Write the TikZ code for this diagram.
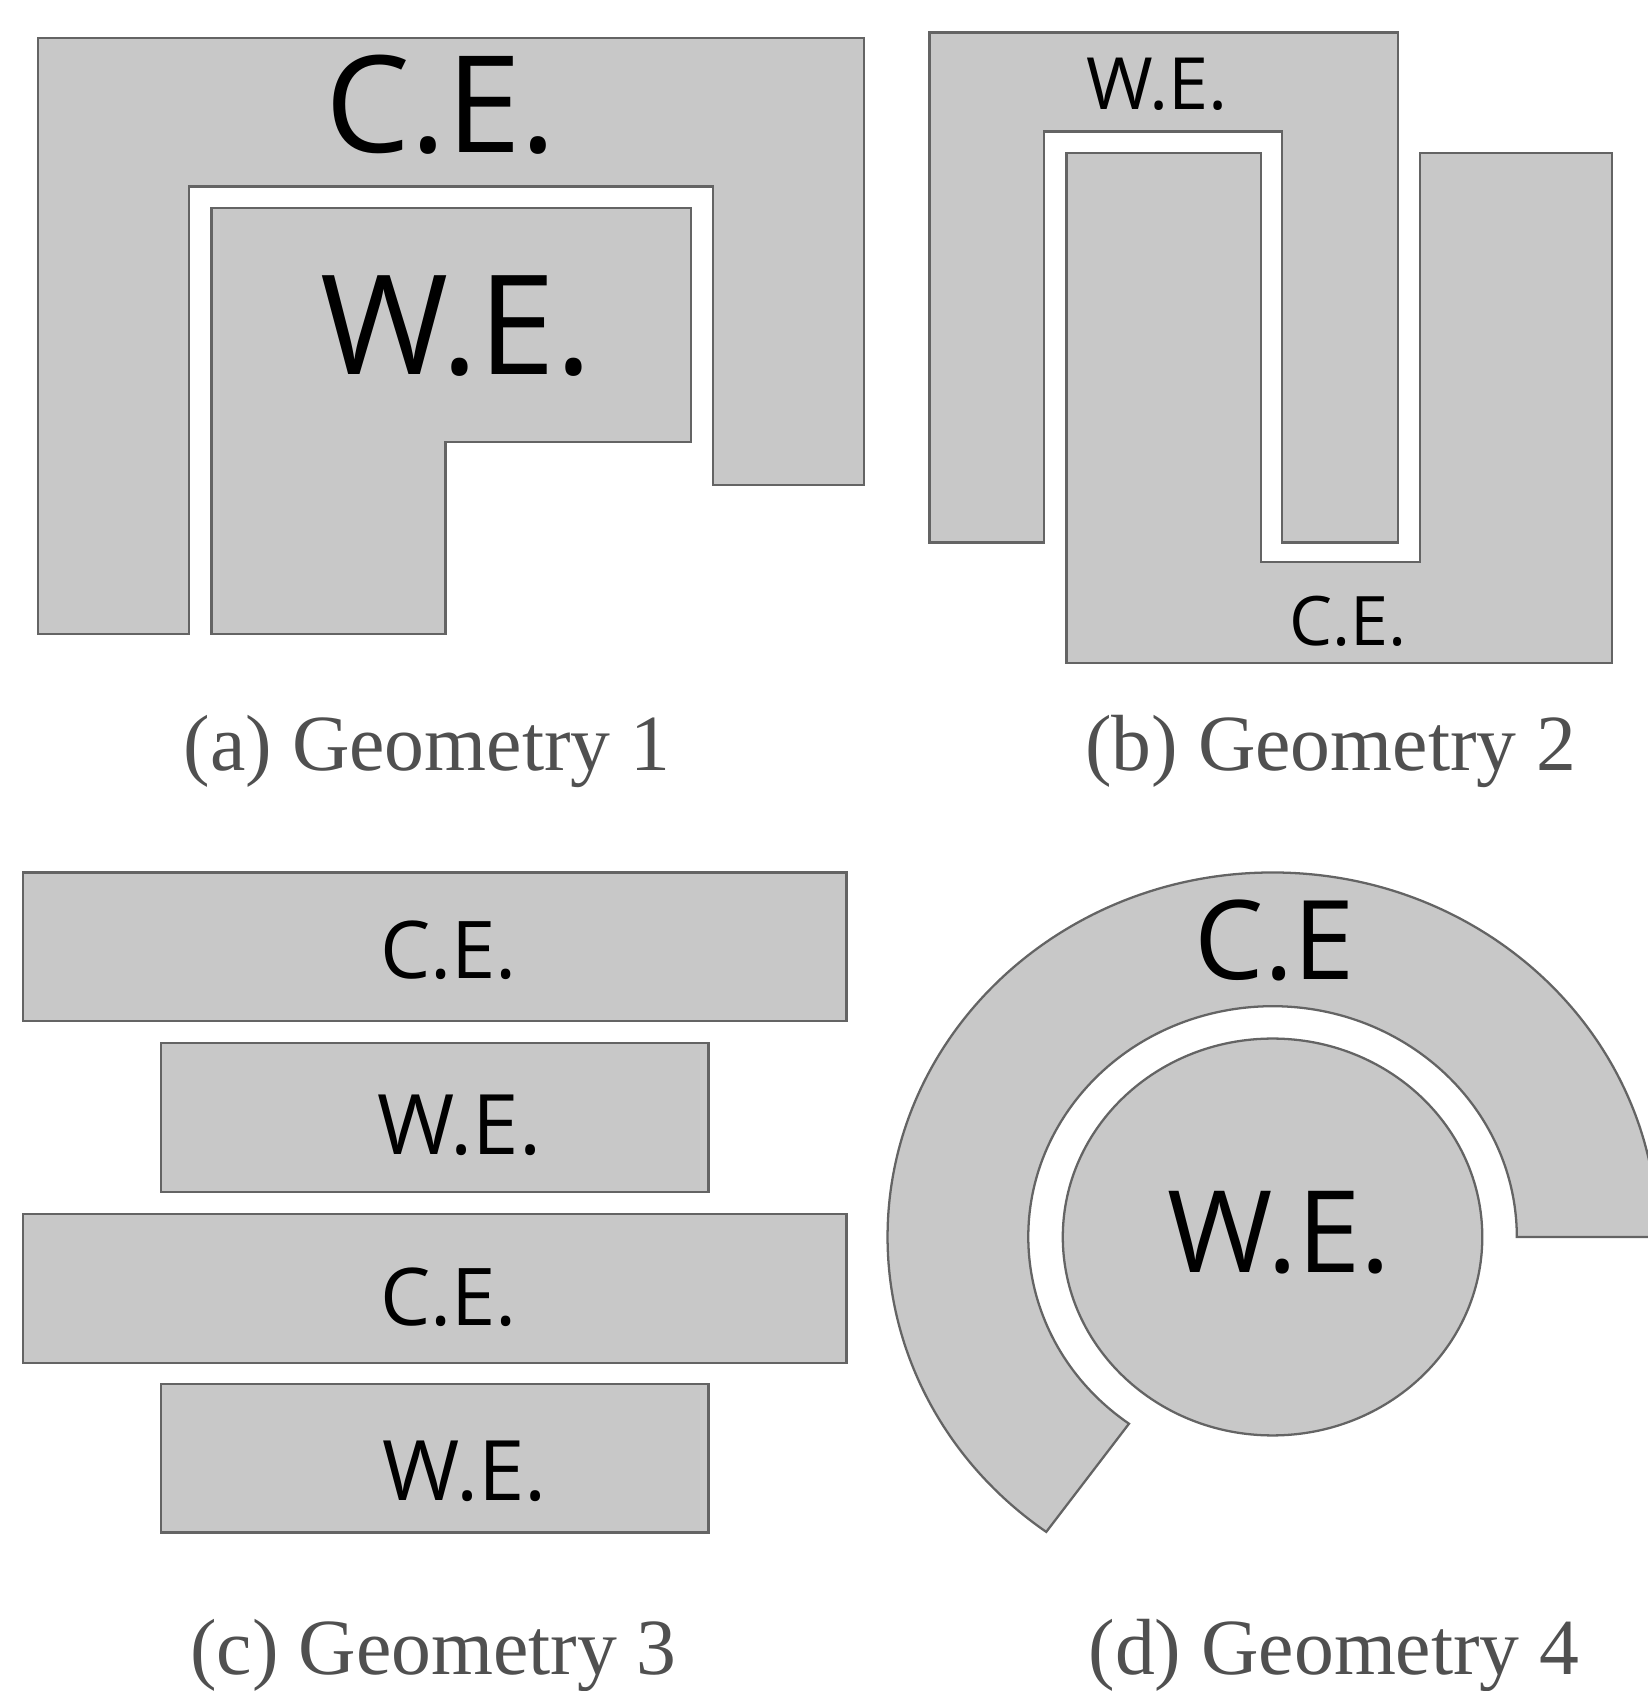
\documentclass[tikz,border=0pt]{standalone}
\usepackage{fontspec}
\setmainfont{Liberation Serif}
\newfontfamily\elfont{Open Sans}
\usetikzlibrary{calc}

\definecolor{elecfill}{RGB}{200,200,200}
\definecolor{elecline}{RGB}{100,100,100}
\definecolor{capgray}{RGB}{80,80,80}

\tikzset{
  elec/.style={fill=elecfill, draw=elecline, line width=0.6pt},
  tag/.style={font=\elfont\fontsize{#1}{#1}\selectfont, inner sep=0pt},
  caption/.style={anchor=base, text=capgray, inner sep=0pt,
    font=\fontsize{21}{24}\selectfont}
}

\begin{document}
\begin{tikzpicture}[x=0.01cm, y=0.01cm]
  \useasboundingbox (0,0) rectangle (1528,-1568);

  % ---------- (a) geometry 1 ----------
  \draw[elec] (35,-35) -- (801,-35) -- (801,-450) -- (661,-450) -- (661,-173)
    -- (175,-173) -- (175,-588) -- (35,-588) -- cycle;
  \draw[elec] (196,-193) -- (641,-193) -- (641,-410) -- (413,-410)
    -- (413,-588) -- (196,-588) -- cycle;
  \node[tag=35.5] (ce1) at (409,-97) {C.E.};
  \node[tag=36.5] (we1) at (423,-302) {W.E.};
  \node[caption] (capa) at (396,-714) {(a) Geometry 1};

  % ---------- (b) geometry 2 ----------
  \draw[elec] (862,-30) -- (1296,-30) -- (1296,-503) -- (1189,-503) -- (1189,-122)
    -- (968,-122) -- (968,-503) -- (862,-503) -- cycle;
  \draw[elec] (989,-142) -- (1169,-142) -- (1169,-521) -- (1317,-521) -- (1317,-142)
    -- (1495,-142) -- (1495,-615) -- (989,-615) -- cycle;
  \node[tag=19] (we2) at (1073,-78) {W.E.};
  \node[tag=18] (ce2) at (1250,-576) {C.E.};
  \node[caption] (capb) at (1234,-714) {(b) Geometry 2};

  % ---------- (c) geometry 3 ----------
  \foreach \t/\l/\r/\lx/\ly/\fs/\txt [count=\i] in
      {809/21/785/416/881/21/C.E., 967/149/657/426/1043/22/W.E.,
       1126/21/785/416/1203/21/C.E., 1283/149/657/431/1364/22/W.E.}{
    \draw[elec] (\l,-\t) rectangle (\r,-\t-138);
    \node[tag=\fs] (strip\i) at (\lx,-\ly) {\txt};
  }
  \node[caption] (capc) at (402,-1553) {(c) Geometry 3};

  % ---------- (d) geometry 4 ----------
  \coordinate (g4) at (1180,-1147);
  \draw[elec] ($(g4)+(357,0)$) arc[start angle=0, end angle=234, x radius=357, y radius=338]
    -- ($(g4)+(234:226.5 and 214)$) arc[start angle=234, end angle=0, x radius=226.5, y radius=214]
    -- cycle;
  \draw[elec] (g4) ellipse[x radius=194.5, y radius=184];
  \node[tag=29] (ce4) at (1182,-872) {C.E};
  \node[tag=30] (we4) at (1186,-1143) {W.E.};
  \node[caption] (capd) at (1237,-1553) {(d) Geometry 4};

\end{tikzpicture}
\end{document}
